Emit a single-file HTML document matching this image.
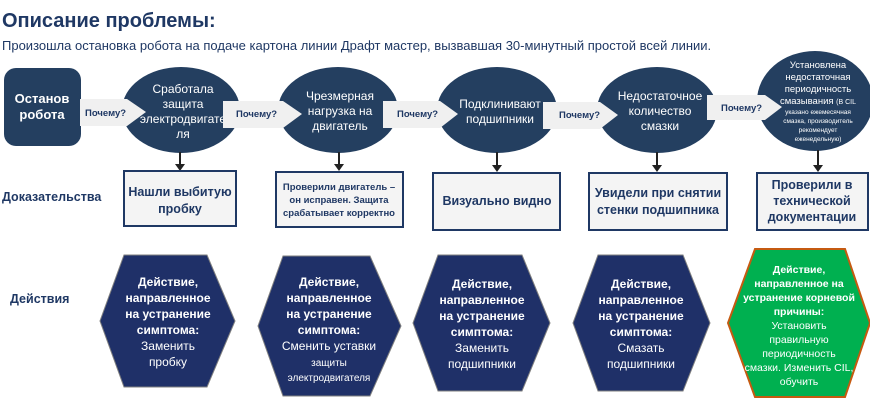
<!DOCTYPE html>
<html><head><meta charset="utf-8"><style>
body{margin:0;background:#fff;}
svg{display:block;font-family:"Liberation Sans","Noto Sans CJK SC",sans-serif;}
</style></head><body>
<svg width="870" height="400" viewBox="0 0 870 400" xmlns="http://www.w3.org/2000/svg">
<text x="2" y="27" font-size="20" font-weight="bold" fill="#1f3864">Описание проблемы:</text>
<text x="2" y="50" font-size="13" fill="#1f3864">Произошла остановка робота на подаче картона линии Драфт мастер, вызвавшая 30-минутный простой всей линии.</text>

<rect x="4" y="68" width="77" height="78" rx="12" fill="#243f60"/>
<text x="42" y="103" font-size="13" font-weight="bold" fill="#fff" text-anchor="middle">Останов</text>
<text x="42" y="119" font-size="13" font-weight="bold" fill="#fff" text-anchor="middle">робота</text>

<g fill="#243f60">
<ellipse cx="181" cy="110" rx="59" ry="43"/>
<ellipse cx="338" cy="110" rx="60" ry="43"/>
<ellipse cx="497" cy="110" rx="60" ry="43"/>
<ellipse cx="657" cy="110" rx="60" ry="43"/>
<ellipse cx="815" cy="101" rx="58" ry="50"/>
</g>
<g font-size="12" fill="#fff" text-anchor="middle">
<text x="183" y="93">Сработала</text><text x="183" y="108">защита</text><text x="183" y="123">электродвигате</text><text x="183" y="138">ля</text>
<text x="340" y="100">Чрезмерная</text><text x="340" y="115">нагрузка на</text><text x="340" y="130">двигатель</text>
<text x="500" y="108">Подклинивают</text><text x="500" y="123">подшипники</text>
<text x="660" y="100">Недостаточное</text><text x="660" y="115">количество</text><text x="660" y="130">смазки</text>
</g>
<g fill="#fff" text-anchor="middle">
<text x="818" y="68" font-size="9.5">Установлена</text>
<text x="818" y="80" font-size="9.5">недостаточная</text>
<text x="818" y="92" font-size="9.5">периодичность</text>
<text x="818" y="104" font-size="9.5">смазывания <tspan font-size="7">(В CIL</tspan></text>
<text x="818" y="114" font-size="6.5">указано ежемесячная</text>
<text x="818" y="123" font-size="6.5">смазка, производитель</text>
<text x="818" y="132" font-size="6.5">рекомендует</text>
<text x="818" y="141" font-size="6.5">еженедельную)</text>
</g>

<!-- why arrows (on top) -->
<g fill="#f0f0f0">
<polygon points="80,99 127,99 146,112 127,126 80,126"/>
<polygon points="223,101 283,101 302,114 283,128 223,128"/>
<polygon points="383,101 440,101 458,114 440,128 383,128"/>
<polygon points="543,102 600,102 618,115 600,129 543,129"/>
<polygon points="707,95 765,95 782,107 765,120 707,120"/>
</g>
<g font-size="9.5" font-weight="bold" fill="#1f3864">
<text x="85" y="116">Почему?</text>
<text x="236" y="117">Почему?</text>
<text x="397" y="117">Почему?</text>
<text x="559" y="118">Почему?</text>
<text x="721" y="111">Почему?</text>
</g>

<!-- down arrows -->
<g stroke="#222" stroke-width="2" fill="#222">
<line x1="180" y1="152" x2="180" y2="164"/><polygon points="175,164 185,164 180,171" stroke="none"/>
<line x1="339" y1="152" x2="339" y2="164"/><polygon points="334,164 344,164 339,171" stroke="none"/>
<line x1="497" y1="152" x2="497" y2="166"/><polygon points="492,165 502,165 497,172" stroke="none"/>
<line x1="657" y1="152" x2="657" y2="166"/><polygon points="652,165 662,165 657,172" stroke="none"/>
<line x1="818" y1="150" x2="818" y2="166"/><polygon points="813,165 823,165 818,172" stroke="none"/>
</g>

<g fill="#f4f4f4" stroke="#1f3864" stroke-width="2">
<rect x="124" y="171" width="112" height="55"/>
<rect x="276" y="172" width="127" height="55"/>
<rect x="433" y="173" width="127" height="57"/>
<rect x="589" y="173" width="138" height="57"/>
<rect x="757" y="173" width="111" height="57"/>
</g>
<g font-weight="bold" fill="#1f3864" text-anchor="middle">
<text x="180" y="196" font-size="12.5">Нашли выбитую</text><text x="180" y="213" font-size="12.5">пробку</text>
<text x="339" y="190" font-size="9.5">Проверили двигатель –</text><text x="339" y="203" font-size="9.5">он исправен. Защита</text><text x="339" y="216" font-size="9.5">срабатывает корректно</text>
<text x="497" y="205" font-size="12.5">Визуально видно</text>
<text x="658" y="197" font-size="12.5">Увидели при снятии</text><text x="658" y="214" font-size="12.5">стенки подшипника</text>
<text x="812" y="189" font-size="12.5">Проверили в</text><text x="812" y="205" font-size="12.5">технической</text><text x="812" y="221" font-size="12.5">документации</text>
</g>

<text x="2" y="201" font-size="12.5" font-weight="bold" fill="#1f3864">Доказательства</text>
<text x="10" y="303" font-size="12.5" font-weight="bold" fill="#1f3864">Действия</text>

<g fill="#1f3068" stroke="#7f7f7f" stroke-width="1">
<polygon points="124,255 207,255 235,321 207,387 124,387 100,321"/>
<polygon points="283,256 370,256 401,326 370,396 283,396 258,326"/>
<polygon points="438,255 522,255 550,323 522,391 438,391 413,323"/>
<polygon points="598,255 683,255 710,323 683,391 598,391 573,323"/>
</g>
<polygon points="755,249 845,249 870,323 845,397 755,397 728,323" fill="#00b050" stroke="#c55a11" stroke-width="2"/>

<g fill="#fff" text-anchor="middle" font-size="12">
<g font-weight="bold"><text x="168" y="286">Действие,</text><text x="168" y="302">направленное</text><text x="168" y="318">на устранение</text><text x="168" y="334">симптома:</text></g>
<text x="168" y="350">Заменить</text><text x="168" y="366">пробку</text>
<g font-weight="bold"><text x="329" y="286">Действие,</text><text x="329" y="302">направленное</text><text x="329" y="318">на устранение</text><text x="329" y="334">симптома:</text></g>
<text x="329" y="350">Сменить уставки</text><text x="329" y="366" font-size="10">защиты</text><text x="329" y="381" font-size="10">электродвигателя</text>
<g font-weight="bold"><text x="482" y="288">Действие,</text><text x="482" y="304">направленное</text><text x="482" y="320">на устранение</text><text x="482" y="336">симптома:</text></g>
<text x="482" y="352">Заменить</text><text x="482" y="368">подшипники</text>
<g font-weight="bold"><text x="641" y="288">Действие,</text><text x="641" y="304">направленное</text><text x="641" y="320">на устранение</text><text x="641" y="336">симптома:</text></g>
<text x="641" y="352">Смазать</text><text x="641" y="368">подшипники</text>
</g>
<g fill="#fff" text-anchor="middle" font-size="10.5">
<g font-weight="bold"><text x="799" y="273">Действие,</text><text x="799" y="287">направленное на</text><text x="799" y="301">устранение корневой</text><text x="799" y="315">причины:</text></g>
<text x="799" y="329">Установить</text><text x="799" y="343">правильную</text><text x="799" y="357">периодичность</text><text x="799" y="371">смазки. Изменить CIL,</text><text x="799" y="385">обучить</text>
</g>
</svg>
</body></html>
